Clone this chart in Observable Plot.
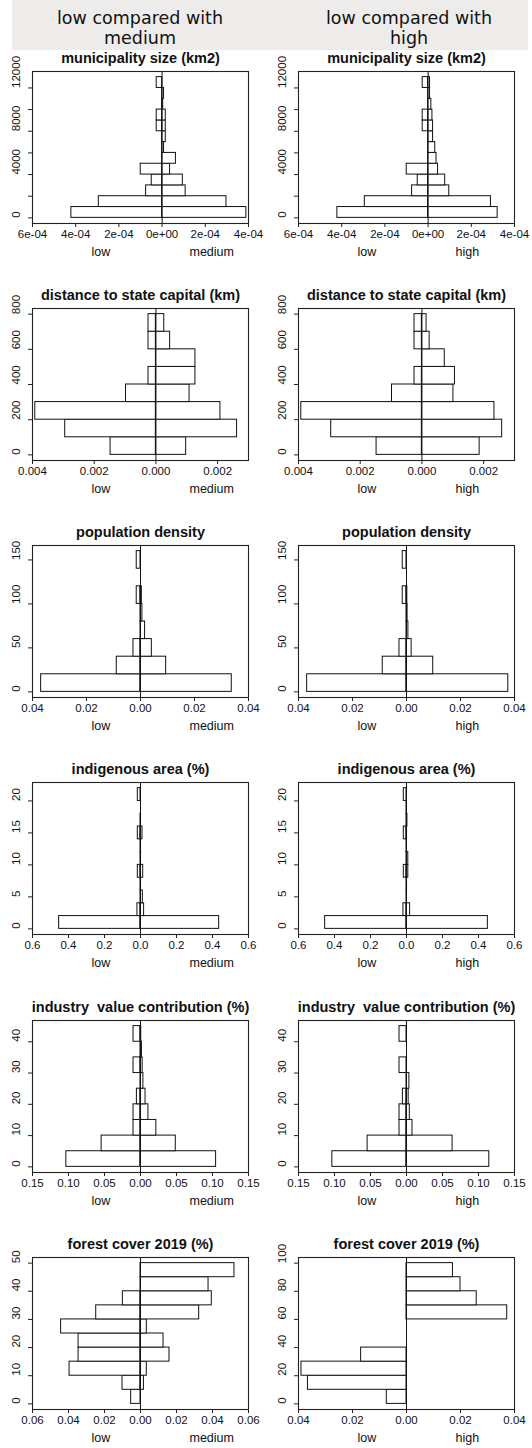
<!DOCTYPE html>
<html><head><meta charset="utf-8">
<script src="https://cdn.jsdelivr.net/npm/d3@7"></script>
<script src="https://cdn.jsdelivr.net/npm/@observablehq/plot@0.6"></script>
<style>
body{margin:0;background:#fff;width:532px;height:1448px;position:relative;overflow:hidden;font-family:"Liberation Sans",Arial,sans-serif;}
.hdr{position:absolute;top:0;left:12px;width:516px;height:50px;background:#eeeceb;}
.htxt{position:absolute;top:8px;font-family:"DejaVu Sans",sans-serif;font-size:17.5px;line-height:20px;text-align:center;width:260px;color:#111;}
.panel{position:absolute;}
.panel svg{overflow:visible;display:block;}
</style></head><body>
<div class="hdr"></div>
<div class="htxt" style="left:10px">low compared with<br>medium</div>
<div class="htxt" style="left:279px">low compared with<br>high</div>
<div id="charts"></div>
<script>
// ---------- data ----------
const groupNames = ["medium", "high"];
const titles = ["municipality size (km2)", "distance to state capital (km)", "population density",
  "indigenous area (%)", "industry  value contribution (%)", "forest cover 2019 (%)"];

// municipality size
const sizeBreaks = [0,1000,2000,3000,4000,5000,6000,7000,8000,9000,10000,11000,12000,13000];
const sizeLow    = [4.2e-4,2.93e-4,0.74e-4,0.48e-4,0.99e-4,0,0,0,0.25e-4,0.25e-4,0,0,0.25e-4];
const sizeMedium = [3.9e-4,2.98e-4,1.09e-4,0.96e-4,0.37e-4,0.64e-4,0.09e-4,0.17e-4,0.17e-4,0.17e-4,0.05e-4,0.09e-4,0];
const sizeHigh   = [3.22e-4,2.91e-4,0.98e-4,0.79e-4,0.46e-4,0.39e-4,0.33e-4,0.23e-4,0.23e-4,0.2e-4,0.15e-4,0.09e-4,0.09e-4];
const sizeXTicks = [-6e-4,-4e-4,-2e-4,0,2e-4,4e-4];
const sizeXLabels = ["6e-04","4e-04","2e-04","0e+00","2e-04","4e-04"];
const sizeYTicks = [0,2000,4000,6000,8000,10000,12000];
const sizeYLabels = ["0","","4000","","8000","","12000"];

// distance to state capital
const distBreaks = [0,100,200,300,400,500,600,700,800];
const distLow    = [0.00147,0.00294,0.00391,0.00097,0.00024,0,0.00024,0.00024];
const distMedium = [0.00098,0.00263,0.00209,0.00109,0.00128,0.00128,0.00046,0.00027];
const distHigh   = [0.00187,0.0026,0.00235,0.00102,0.00107,0.00074,0.00025,0.00015];
const distXTicks = [-0.004,-0.002,0,0.002];
const distXLabels = ["0.004","0.002","0.000","0.002"];
const distYTicks = [0,200,400,600,800];
const distYLabels = ["0","200","400","600","800"];

// population density
const popBreaks = [0,20,40,60,80,100,120,140,160];
const popLow    = [0.0368,0.0088,0.0026,0,0,0.0014,0,0.0014];
const popMedium = [0.0338,0.0095,0.0042,0.0017,0.0007,0.0005,0,0];
const popHigh   = [0.0377,0.0099,0.0019,0.0007,0.0004,0.0003,0,0];
const popXTicks = [-0.04,-0.02,0,0.02,0.04];
const popXLabels = ["0.04","0.02","0.00","0.02","0.04"];
const popYTicks = [0,50,100,150];
const popYLabels = ["0","50","100","150"];

// indigenous area
const indBreaks = [0,2,4,6,8,10,12,14,16,18,20,22];
const indLow    = [0.452,0.017,0,0,0.015,0,0,0.015,0,0,0.015];
const indMedium = [0.437,0.02,0.013,0.003,0.015,0.003,0.003,0.011,0.003,0,0];
const indHigh   = [0.452,0.02,0.002,0.003,0.01,0.01,0.002,0.003,0.005,0.002,0];
const indXTicks = [-0.6,-0.4,-0.2,0,0.2,0.4,0.6];
const indXLabels = ["0.6","0.4","0.2","0.0","0.2","0.4","0.6"];
const indYTicks = [0,5,10,15,20];
const indYLabels = ["0","5","10","15","20"];

// industry value contribution
const indusBreaks = [0,5,10,15,20,25,30,35,40,45];
const indusLow    = [0.103,0.054,0.0097,0.0097,0.005,0,0.0097,0,0.0097];
const indusMedium = [0.105,0.049,0.022,0.011,0.007,0.004,0.003,0.002,0.001];
const indusHigh   = [0.115,0.064,0.0083,0.0046,0.003,0.004,0,0,0];
const indusXTicks = [-0.15,-0.1,-0.05,0,0.05,0.1,0.15];
const indusXLabels = ["0.15","0.10","0.05","0.00","0.05","0.10","0.15"];
const indusYTicks = [0,10,20,30,40];
const indusYLabels = ["0","10","20","30","40"];

// forest cover 2019 (low vs medium)
const forMBreaks = [0,5,10,15,20,25,30,35,40,45,50];
const forMLow    = [0.0052,0.010,0.0394,0.0344,0.0344,0.0441,0.0246,0.0098,0,0];
const forMMedium = [0,0.0019,0.0035,0.0161,0.0128,0.0035,0.0326,0.0396,0.0378,0.0522];
const forMXTicks = [-0.06,-0.04,-0.02,0,0.02,0.04,0.06];
const forMXLabels = ["0.06","0.04","0.02","0.00","0.02","0.04","0.06"];
const forMYTicks = [0,10,20,30,40,50];
const forMYLabels = ["0","10","20","30","40","50"];

// forest cover 2019 (low vs high)
const forHBreaks = [0,10,20,30,40,50,60,70,80,90,100];
const forHLow    = [0.0073,0.0365,0.0389,0.0168,0,0,0,0,0,0];
const forHHigh   = [0,0,0,0,0,0,0.0373,0.026,0.020,0.0172];
const forHXTicks = [-0.04,-0.02,0,0.02,0.04];
const forHXLabels = ["0.04","0.02","0.00","0.02","0.04"];
const forHYTicks = [0,20,40,60,80,100];
const forHYLabels = ["0","20","40","60","80","100"];

// ---------- panels ----------
const panels = [
  {row:0,col:0,title:titles[0],breaks:sizeBreaks,low:sizeLow,other:sizeMedium,name:groupNames[0],xd:[-6e-4,4e-4],xt:sizeXTicks,xl:sizeXLabels,yt:sizeYTicks,yl:sizeYLabels},
  {row:0,col:1,title:titles[0],breaks:sizeBreaks,low:sizeLow,other:sizeHigh,name:groupNames[1],xd:[-6e-4,4e-4],xt:sizeXTicks,xl:sizeXLabels,yt:sizeYTicks,yl:sizeYLabels},
  {row:1,col:0,title:titles[1],breaks:distBreaks,low:distLow,other:distMedium,name:groupNames[0],xd:[-0.004,0.003],xt:distXTicks,xl:distXLabels,yt:distYTicks,yl:distYLabels},
  {row:1,col:1,title:titles[1],breaks:distBreaks,low:distLow,other:distHigh,name:groupNames[1],xd:[-0.004,0.003],xt:distXTicks,xl:distXLabels,yt:distYTicks,yl:distYLabels},
  {row:2,col:0,title:titles[2],breaks:popBreaks,low:popLow,other:popMedium,name:groupNames[0],xd:[-0.04,0.04],xt:popXTicks,xl:popXLabels,yt:popYTicks,yl:popYLabels},
  {row:2,col:1,title:titles[2],breaks:popBreaks,low:popLow,other:popHigh,name:groupNames[1],xd:[-0.04,0.04],xt:popXTicks,xl:popXLabels,yt:popYTicks,yl:popYLabels},
  {row:3,col:0,title:titles[3],breaks:indBreaks,low:indLow,other:indMedium,name:groupNames[0],xd:[-0.6,0.6],xt:indXTicks,xl:indXLabels,yt:indYTicks,yl:indYLabels},
  {row:3,col:1,title:titles[3],breaks:indBreaks,low:indLow,other:indHigh,name:groupNames[1],xd:[-0.6,0.6],xt:indXTicks,xl:indXLabels,yt:indYTicks,yl:indYLabels},
  {row:4,col:0,title:titles[4],breaks:indusBreaks,low:indusLow,other:indusMedium,name:groupNames[0],xd:[-0.15,0.15],xt:indusXTicks,xl:indusXLabels,yt:indusYTicks,yl:indusYLabels},
  {row:4,col:1,title:titles[4],breaks:indusBreaks,low:indusLow,other:indusHigh,name:groupNames[1],xd:[-0.15,0.15],xt:indusXTicks,xl:indusXLabels,yt:indusYTicks,yl:indusYLabels},
  {row:5,col:0,title:titles[5],breaks:forMBreaks,low:forMLow,other:forMMedium,name:groupNames[0],xd:[-0.06,0.06],xt:forMXTicks,xl:forMXLabels,yt:forMYTicks,yl:forMYLabels},
  {row:5,col:1,title:titles[5],breaks:forHBreaks,low:forHLow,other:forHHigh,name:groupNames[1],xd:[-0.04,0.04],xt:forHXTicks,xl:forHXLabels,yt:forHYTicks,yl:forHYLabels}
];

const boxTops = [71, 308, 545, 782, 1020, 1257];
const MT = 26, MB = 42, H = 152, ML = 32, MR = 18, W = 266;
const ink = "#111";

for (const p of panels) {
  const rows = [];
  const n = p.breaks.length - 1;
  for (let i = 0; i < n; i++) {
    if (p.low[i] > 0) rows.push({x1: -p.low[i], x2: 0, y1: p.breaks[i], y2: p.breaks[i+1]});
    if (p.other[i] > 0) rows.push({x1: 0, x2: p.other[i], y1: p.breaks[i], y2: p.breaks[i+1]});
  }
  const lo = p.breaks[0], hi = p.breaks[n];
  const pad = (hi - lo) * 0.04;
  const yLab = p.yt.map((v, i) => ({v, t: p.yl[i]})).filter(d => d.t !== "");
  const chart = Plot.plot({
    width: W, height: MT + H + MB,
    marginLeft: ML, marginRight: MR, marginTop: MT, marginBottom: MB,
    x: {domain: p.xd},
    y: {domain: [lo - pad, hi + pad]},
    style: {fontFamily: "'Liberation Sans', Arial, sans-serif", fontSize: "11px", color: ink, background: "transparent"},
    marks: [
      Plot.rect(rows, {x1: "x1", x2: "x2", y1: "y1", y2: "y2", fill: "white", stroke: ink, strokeWidth: 1}),
      Plot.ruleX([0], {stroke: ink, strokeWidth: 1}),
      Plot.frame({stroke: "#222", strokeWidth: 1.1}),
      Plot.axisX(p.xt, {tickSize: 4, tickFormat: () => "", label: null, stroke: "#222"}),
      Plot.text(p.xt, {x: d => d, text: (d, i) => p.xl[i], frameAnchor: "bottom", dy: 10.5, fontSize: 11.5, lineAnchor: "middle", fill: ink}),
      Plot.axisY(p.yt, {tickSize: 4, tickFormat: () => "", label: null, stroke: "#222"}),
      Plot.text(yLab, {y: "v", text: "t", frameAnchor: "left", dx: -16, rotate: -90, fontSize: 11.5, lineAnchor: "middle", fill: ink}),
      Plot.text([p.title], {text: d => d, frameAnchor: "top", dy: -19, fontSize: 14.5, fontWeight: "bold", fill: ink}),
      Plot.text(["low"], {text: d => d, frameAnchor: "bottom-left", dx: 59, dy: 32, fontSize: 12.5, fill: ink}),
      Plot.text([p.name], {text: d => d, frameAnchor: "bottom-left", dx: 157, dy: 32, fontSize: 12.5, fill: ink})
    ]
  });
  const div = document.createElement("div");
  div.className = "panel";
  div.style.left = (p.col * W) + "px";
  div.style.top = (boxTops[p.row] - MT) + "px";
  div.appendChild(chart);
  document.getElementById("charts").appendChild(div);
}
</script>
</body></html>
